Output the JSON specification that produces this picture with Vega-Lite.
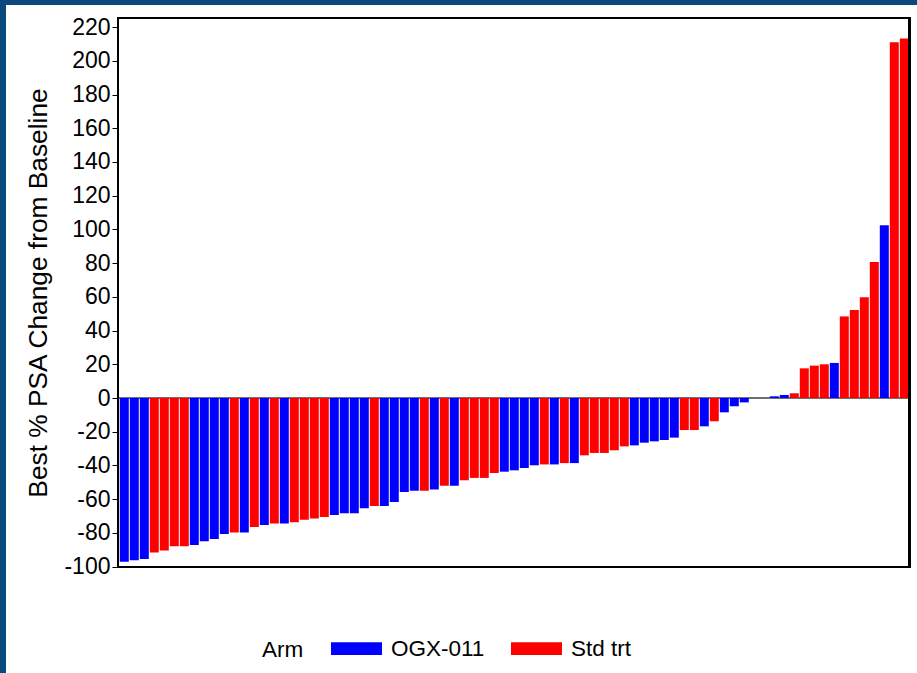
{
  "$schema": "https://vega.github.io/schema/vega-lite/v6.json",
  "width": 911,
  "height": 668,
  "autosize": {"type": "none"},
  "padding": {"left": 6, "top": 5, "right": 0, "bottom": 0},
  "background": "#0b497c",
  "config": {
    "view": {"fill": "white", "stroke": null},
    "font": "Liberation Sans"
  },
  "data": {
    "values": [
      {"rank": 1, "arm": "OGX-011", "change": -97.1},
      {"rank": 2, "arm": "OGX-011", "change": -96.3},
      {"rank": 3, "arm": "OGX-011", "change": -95.5},
      {"rank": 4, "arm": "Std trt", "change": -91.7},
      {"rank": 5, "arm": "Std trt", "change": -90.4},
      {"rank": 6, "arm": "Std trt", "change": -88.0},
      {"rank": 7, "arm": "Std trt", "change": -88.0},
      {"rank": 8, "arm": "OGX-011", "change": -87.2},
      {"rank": 9, "arm": "OGX-011", "change": -85.0},
      {"rank": 10, "arm": "OGX-011", "change": -83.6},
      {"rank": 11, "arm": "OGX-011", "change": -80.7},
      {"rank": 12, "arm": "Std trt", "change": -79.7},
      {"rank": 13, "arm": "OGX-011", "change": -79.7},
      {"rank": 14, "arm": "Std trt", "change": -76.5},
      {"rank": 15, "arm": "OGX-011", "change": -75.3},
      {"rank": 16, "arm": "Std trt", "change": -74.5},
      {"rank": 17, "arm": "OGX-011", "change": -74.5},
      {"rank": 18, "arm": "Std trt", "change": -73.7},
      {"rank": 19, "arm": "Std trt", "change": -72.2},
      {"rank": 20, "arm": "Std trt", "change": -71.4},
      {"rank": 21, "arm": "Std trt", "change": -70.6},
      {"rank": 22, "arm": "OGX-011", "change": -69.4},
      {"rank": 23, "arm": "OGX-011", "change": -68.4},
      {"rank": 24, "arm": "OGX-011", "change": -68.4},
      {"rank": 25, "arm": "OGX-011", "change": -65.4},
      {"rank": 26, "arm": "Std trt", "change": -64.1},
      {"rank": 27, "arm": "OGX-011", "change": -64.1},
      {"rank": 28, "arm": "OGX-011", "change": -61.7},
      {"rank": 29, "arm": "OGX-011", "change": -55.8},
      {"rank": 30, "arm": "OGX-011", "change": -55.0},
      {"rank": 31, "arm": "Std trt", "change": -55.0},
      {"rank": 32, "arm": "OGX-011", "change": -54.2},
      {"rank": 33, "arm": "Std trt", "change": -52.0},
      {"rank": 34, "arm": "OGX-011", "change": -52.0},
      {"rank": 35, "arm": "Std trt", "change": -48.8},
      {"rank": 36, "arm": "Std trt", "change": -47.4},
      {"rank": 37, "arm": "Std trt", "change": -47.4},
      {"rank": 38, "arm": "Std trt", "change": -44.5},
      {"rank": 39, "arm": "OGX-011", "change": -43.7},
      {"rank": 40, "arm": "OGX-011", "change": -42.9},
      {"rank": 41, "arm": "OGX-011", "change": -41.5},
      {"rank": 42, "arm": "OGX-011", "change": -39.9},
      {"rank": 43, "arm": "Std trt", "change": -39.4},
      {"rank": 44, "arm": "OGX-011", "change": -39.4},
      {"rank": 45, "arm": "Std trt", "change": -38.6},
      {"rank": 46, "arm": "OGX-011", "change": -38.6},
      {"rank": 47, "arm": "Std trt", "change": -34.0},
      {"rank": 48, "arm": "Std trt", "change": -32.6},
      {"rank": 49, "arm": "Std trt", "change": -32.6},
      {"rank": 50, "arm": "Std trt", "change": -31.0},
      {"rank": 51, "arm": "Std trt", "change": -28.7},
      {"rank": 52, "arm": "OGX-011", "change": -28.1},
      {"rank": 53, "arm": "OGX-011", "change": -26.5},
      {"rank": 54, "arm": "OGX-011", "change": -25.7},
      {"rank": 55, "arm": "OGX-011", "change": -24.9},
      {"rank": 56, "arm": "OGX-011", "change": -23.5},
      {"rank": 57, "arm": "Std trt", "change": -19.0},
      {"rank": 58, "arm": "Std trt", "change": -19.0},
      {"rank": 59, "arm": "OGX-011", "change": -16.8},
      {"rank": 60, "arm": "Std trt", "change": -13.8},
      {"rank": 61, "arm": "OGX-011", "change": -8.5},
      {"rank": 62, "arm": "OGX-011", "change": -4.9},
      {"rank": 63, "arm": "OGX-011", "change": -2.6},
      {"rank": 64, "arm": "OGX-011", "change": 0},
      {"rank": 65, "arm": "Std trt", "change": 0},
      {"rank": 66, "arm": "OGX-011", "change": 1.0},
      {"rank": 67, "arm": "OGX-011", "change": 1.8},
      {"rank": 68, "arm": "Std trt", "change": 2.8},
      {"rank": 69, "arm": "Std trt", "change": 17.6},
      {"rank": 70, "arm": "Std trt", "change": 19.2},
      {"rank": 71, "arm": "Std trt", "change": 20.0},
      {"rank": 72, "arm": "OGX-011", "change": 20.8},
      {"rank": 73, "arm": "Std trt", "change": 48.4},
      {"rank": 74, "arm": "Std trt", "change": 52.2},
      {"rank": 75, "arm": "Std trt", "change": 59.7},
      {"rank": 76, "arm": "Std trt", "change": 80.7},
      {"rank": 77, "arm": "OGX-011", "change": 102.4},
      {"rank": 78, "arm": "Std trt", "change": 211.0},
      {"rank": 79, "arm": "Std trt", "change": 213.3}
    ]
  },
  "layer": [
    {
      "mark": {"type": "rule", "color": "#707070", "strokeWidth": 1.5},
      "encoding": {
        "x": {"datum": 0.37, "type": "quantitative", "scale": {"domain": [0.5, 79.5], "range": [113.3, 903.3], "zero": false, "nice": false, "padding": 0}, "axis": null},
        "x2": {"datum": 79.52},
        "y": {"datum": 0, "type": "quantitative", "scale": {"domain": [-100, 220], "range": [561.6, 22.1], "zero": false, "nice": false, "padding": 0}, "axis": {
          "orient": "left",
          "offset": -112,
          "values": [-100,-95,-90,-85,-80,-75,-70,-65,-60,-55,-50,-45,-40,-35,-30,-25,-20,-15,-10,-5,0,5,10,15,20,25,30,35,40,45,50,55,60,65,70,75,80,85,90,95,100,105,110,115,120,125,130,135,140,145,150,155,160,165,170,175,180,185,190,195,200,205,210,215,220],
          "domain": false,
          "grid": false,
          "tickColor": "black",
          "tickWidth": 1,
          "tickSize": {"expr": "datum.value % 20 === 0 ? 6 : 3"},
          "labelExpr": "datum.value % 20 === 0 ? '' + datum.value : ''",
          "labelOverlap": false,
          "labelBound": false,
          "labelFlush": false,
          "labelFont": "Liberation Sans",
          "labelFontSize": 23,
          "labelColor": "black",
          "labelPadding": 2,
          "title": "Best % PSA Change from Baseline",
          "titleFont": "Liberation Sans",
          "titleFontSize": 26.3,
          "titleFontWeight": "normal",
          "titleColor": "black",
          "titlePadding": 11,
          "titleY": 287.5
        }}
      }
    },
    {
      "mark": {"type": "bar", "orient": "vertical", "size": 9},
      "encoding": {
        "x": {"field": "rank", "type": "quantitative"},
        "y": {"field": "change", "type": "quantitative", "stack": null},
        "color": {
          "field": "arm",
          "type": "nominal",
          "scale": {"domain": ["OGX-011", "Std trt"], "range": ["#0000ff", "#ff0000"]},
          "legend": {
            "orient": "none",
            "legendX": 256,
            "legendY": 618,
            "direction": "horizontal",
            "title": "Arm",
            "titleOrient": "left",
            "titleAnchor": "middle",
            "titleFont": "Liberation Sans",
            "titleFontSize": 22.5,
            "titleFontWeight": "normal",
            "titleColor": "black",
            "titlePadding": 27,
            "titleBaseline": "line-top",
            "titleLineHeight": 17,
            "labelFont": "Liberation Sans",
            "labelFontSize": 22.5,
            "labelColor": "black",
            "labelOffset": 9,
            "columnPadding": 26,
            "symbolType": "M-1,-0.25H1V0.25H-1Z",
            "symbolSize": 2601,
            "symbolStrokeWidth": 0,
            "padding": 0
          }
        }
      }
    },
    {
      "mark": {"type": "rect", "fill": null, "fillOpacity": 0, "stroke": "black", "strokeWidth": 2},
      "encoding": {
        "x": {"datum": 0.37, "type": "quantitative"},
        "x2": {"datum": 79.52},
        "y": {"datum": 225.4, "type": "quantitative"},
        "y2": {"datum": -100.2}
      }
    }
  ]
}
